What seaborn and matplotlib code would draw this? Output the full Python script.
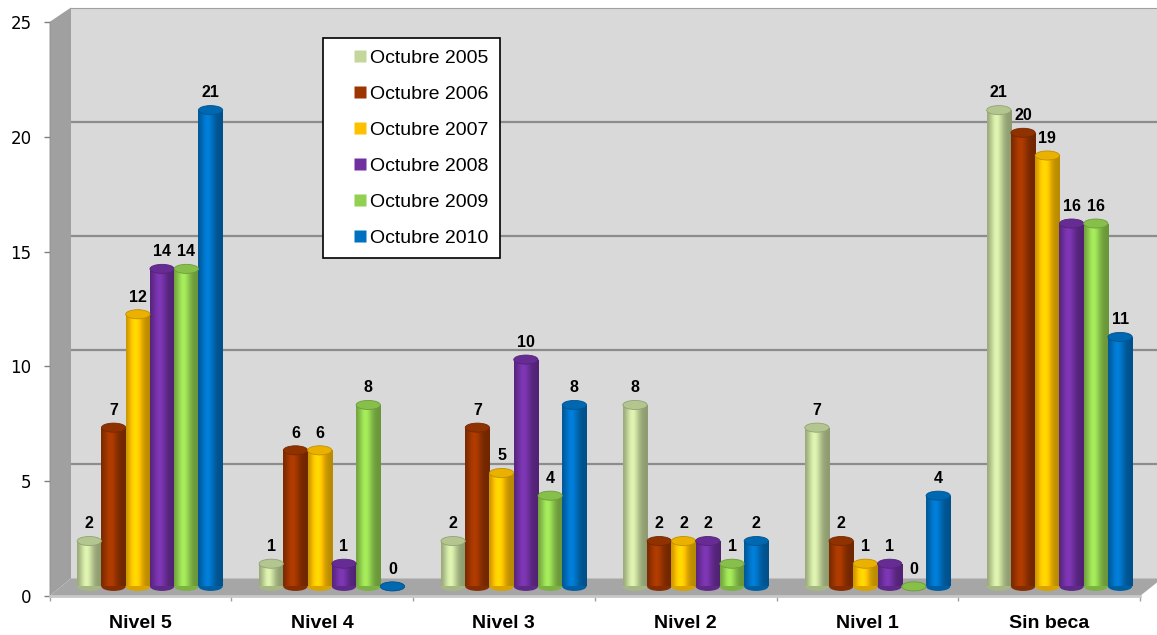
import numpy as np
import pandas as pd
import matplotlib
matplotlib.use("Agg")
import matplotlib.pyplot as plt
import seaborn as sns
from matplotlib.patches import Polygon, Ellipse
from matplotlib.lines import Line2D
from matplotlib.colors import to_rgb

# ---- data ----
categories = ["Nivel 5", "Nivel 4", "Nivel 3", "Nivel 2", "Nivel 1", "Sin beca"]
series = ["Octubre 2005", "Octubre 2006", "Octubre 2007",
          "Octubre 2008", "Octubre 2009", "Octubre 2010"]
oct_2005 = [2, 1, 2, 8, 7, 21]
oct_2006 = [7, 6, 7, 2, 2, 20]
oct_2007 = [12, 6, 5, 2, 1, 19]
oct_2008 = [14, 1, 10, 2, 1, 16]
oct_2009 = [14, 8, 4, 1, 0, 16]
oct_2010 = [21, 0, 8, 2, 4, 11]
colors = ["#C4D79B", "#9C3500", "#FFC000", "#7030A0", "#92D050", "#0070C0"]

values = [oct_2005, oct_2006, oct_2007, oct_2008, oct_2009, oct_2010]
rows = []
for name, vals in zip(series, values):
    for cat, v in zip(categories, vals):
        rows.append({"Nivel": cat, "Periodo": name, "Becas": v})
df = pd.DataFrame(rows)

W, H = 1157, 635


def box(left, right, top, bottom):
    # pixel box (top-left origin) -> figure fraction rect
    return [left / W, 1 - bottom / H, (right - left) / W, (bottom - top) / H]


def px(x, y):
    return (x / W, 1 - y / H)


fig = plt.figure(figsize=(W / 100, H / 100), dpi=100)

# ---- back wall with gridlines ----
ax_back = fig.add_axes(box(71, 1162, 7.5, 578.5), zorder=0)
ax_back.set_facecolor("#D9D9D9")
ax_back.set_xlim(0, 1)
ax_back.set_ylim(0, 25)
for v in range(5, 25, 5):
    ax_back.axhline(v, color="#8C8C8C", lw=1.6)
ax_back.set_xticks([])
ax_back.set_yticks([])
for s in ["left", "right", "bottom"]:
    ax_back.spines[s].set_visible(False)
ax_back.spines["top"].set_color("#A0A0A0")

# ---- side wall and floor ----
fig.add_artist(Polygon([px(49.5, 22), px(71, 7.5), px(71, 578.5), px(49.5, 596)],
                       closed=True, transform=fig.transFigure,
                       facecolor="#A0A0A0", edgecolor="none", zorder=1))
fig.add_artist(Polygon([px(49.5, 596), px(71, 578.5), px(1162, 578.5), px(1140, 596)],
                       closed=True, transform=fig.transFigure,
                       facecolor="#A6A6A6", edgecolor="none", zorder=1))

# ---- front axis (ticks and labels) ----
ax_front = fig.add_axes(box(49.5, 1140, 22, 596), zorder=2)
ax_front.patch.set_alpha(0)
ax_front.set_xlim(-0.5, 5.5)
ax_front.set_ylim(0, 25)
ax_front.set_yticks(range(0, 26, 5))
ax_front.tick_params(axis="y", length=4.3, width=1, color="#808080", pad=8.6,
                     labelsize=12)
ax_front.set_xticks(range(len(categories)), categories)
ax_front.set_xticks(np.arange(-0.5, 6), minor=True)
ax_front.tick_params(axis="x", which="major", length=0, pad=14)
ax_front.tick_params(axis="x", which="minor", length=3.6, width=1, color="#A0A0A0")
for lab in ax_front.get_xticklabels():
    lab.set_fontweight("bold")
    lab.set_fontsize(14)
    lab.set_fontfamily("Liberation Sans")
ax_front.spines["top"].set_visible(False)
ax_front.spines["right"].set_visible(False)
ax_front.spines["left"].set_color("#999999")
ax_front.spines["bottom"].set_color("#C8C8C8")
ax_front.spines["bottom"].set_linewidth(2)

# ---- bars (middle depth plane) ----
ax_bars = fig.add_axes(box(59, 1150.4, 19.4, 586.4), zorder=3)
sns.barplot(data=df, x="Nivel", y="Becas", hue="Periodo", palette=colors,
            width=0.8, errorbar=None, saturation=1, legend=False, ax=ax_bars)

# cylinder look: horizontal shading + elliptical caps
t = np.linspace(0, 1, 64)
light = 0.72 + 0.42 * np.exp(-((t - 0.38) / 0.28) ** 2)
cap_h = 0.4
for cont, col in zip(ax_bars.containers, colors):
    rgb = np.array(to_rgb(col))
    img = np.clip(rgb[None, :] * light[:, None], 0, 1)[None, :, :]
    for bar in cont:
        x0, w, h = bar.get_x(), bar.get_width(), bar.get_height()
        cx = x0 + w / 2
        bar.set_zorder(1.5)
        ax_bars.add_patch(Ellipse((cx, 0), w, cap_h, facecolor=rgb * 0.85,
                                  edgecolor="none", zorder=1, clip_on=False))
        if h > 0:
            im = ax_bars.imshow(img, extent=(x0, x0 + w, 0, h), aspect="auto",
                                zorder=2, interpolation="bilinear")
            im.set_clip_path(bar)
        ax_bars.add_patch(Ellipse((cx, h), w, cap_h, facecolor=np.clip(rgb * 0.92, 0, 1),
                                  edgecolor=rgb * 0.75, lw=0.6, zorder=3, clip_on=False))
    ax_bars.bar_label(cont, padding=7, fontsize=11.5, fontweight="bold",
                      family="Liberation Sans")

ax_bars.set_xlim(-0.5, 5.5)
ax_bars.set_ylim(0, 25)
ax_bars.axis("off")

# ---- legend ----
handles = [Line2D([], [], ls="none", marker="s", markersize=8,
                  markerfacecolor=c, markeredgecolor="none") for c in colors]
leg = fig.legend(handles, series, loc="upper left", bbox_to_anchor=px(323, 38),
                 bbox_transform=fig.transFigure, borderaxespad=0, frameon=True,
                 fancybox=False, edgecolor="black", framealpha=1,
                 borderpad=0.6, handlelength=2.56, handletextpad=-0.74,
                 labelspacing=0.94, prop={"family": "Liberation Sans", "size": 14})
leg.get_frame().set_linewidth(1.2)

fig.savefig("out.png", dpi=100)
